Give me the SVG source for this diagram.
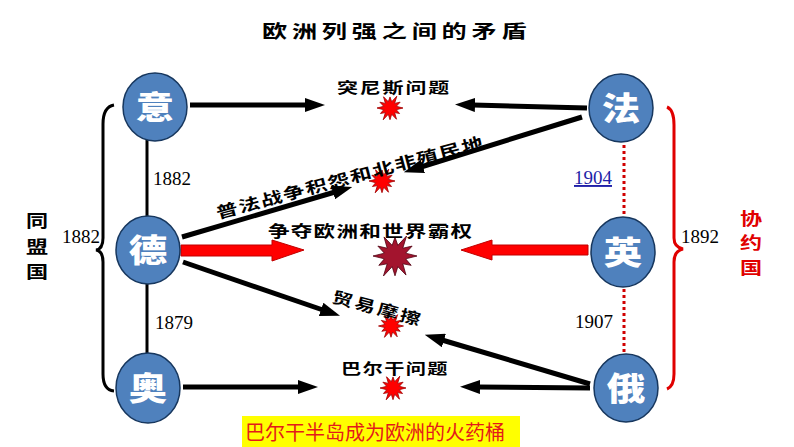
<svg xmlns="http://www.w3.org/2000/svg" xmlns:xlink="http://www.w3.org/1999/xlink" width="794" height="447" viewBox="0 0 794 447">
<style>
.node{fill:#4f81bd;stroke:#17375e;stroke-width:1.5}
.nlabel{font-family:"Noto Sans CJK SC",sans-serif;font-weight:900;font-size:32px;fill:#fff;text-anchor:middle}
.conn{stroke:#000;stroke-width:5;fill:none;marker-end:url(#ah)}
.lbl{font-family:"Noto Sans CJK SC",sans-serif;font-weight:700;fill:#000}
.year{font-family:"Liberation Serif",serif;font-size:19px;fill:#000}
.red{fill:#ff0000;stroke:#c00000;stroke-width:1}
.side{font-family:"Noto Sans CJK SC",sans-serif;font-weight:700;font-size:17px;text-anchor:middle}
</style>
<defs>
<marker id="ah" viewBox="0 0 20 14" markerWidth="4" markerHeight="2.8" refX="2" refY="7" orient="auto">
<path d="M0,0 L20,7 L0,14 z" fill="#000"/>
</marker>
<polygon id="star" vector-effect="non-scaling-stroke" points="10,0 4.83,1.29 7.36,4.25 3.54,3.54 5,8.66 1.29,4.83 0,9 -1.29,4.83 -5.25,9.09 -3.54,3.54 -7.36,4.25 -4.83,1.29 -10,0 -4.83,-1.29 -7.79,-4.5 -3.54,-3.54 -5,-8.66 -1.29,-4.83 0,-8.5 1.29,-4.83 5.25,-9.09 3.54,-3.54 7.79,-4.5 4.83,-1.29"/>
</defs>
<rect width="794" height="447" fill="#fff"/>

<text transform="translate(262,38) scale(1.4,1)" class="lbl" font-size="18" letter-spacing="3.4">欧洲列强之间的矛盾</text>

<g id="brackets">
<path d="M114,105 Q103,107 103,124 L103,238 Q103,249 96,250 Q103,251 103,262 L103,374 Q103,390 114,391" fill="none" stroke="#000" stroke-width="3"/>
<path d="M667,107 Q674,110 674,125 L674,238 Q674,247 683,249 Q674,251 674,262 L674,374 Q674,386 667,389" fill="none" stroke="#e00000" stroke-width="3"/>
</g>

<g id="connectors">
<line x1="147" y1="140" x2="147" y2="217" stroke="#000" stroke-width="3"/>
<line x1="147" y1="284" x2="147" y2="354" stroke="#000" stroke-width="3"/>
<line x1="624" y1="145" x2="624" y2="216" stroke="#d00000" stroke-width="3" stroke-dasharray="3 3"/>
<line x1="624" y1="289" x2="624" y2="353" stroke="#d00000" stroke-width="3" stroke-dasharray="3 3"/>
<line class="conn" x1="190" y1="105" x2="307" y2="105"/>
<line class="conn" x1="587" y1="108" x2="473" y2="105"/>
<line class="conn" x1="582" y1="117" x2="421" y2="167"/>
<line class="conn" x1="182" y1="237" x2="335" y2="192"/>
<line class="conn" x1="183" y1="262" x2="323" y2="310"/>
<line class="conn" x1="590" y1="384" x2="442" y2="340"/>
<line class="conn" x1="590" y1="388" x2="478" y2="387"/>
<line class="conn" x1="183" y1="387" x2="300" y2="387"/>
<polygon class="red" points="181,245 272,245 272,240 304,250 272,261 272,256 181,256"/>
<polygon class="red" points="588,245 492,245 492,240 461,250 492,260 492,255 588,255"/>
</g>

<g id="explosions">
<use xlink:href="#star" transform="translate(390,108) scale(1.3)" fill="#ff0000" stroke="#a00000" stroke-width="0.8"/>
<use xlink:href="#star" transform="translate(382,181) scale(1.3)" fill="#ff0000" stroke="#a00000" stroke-width="0.8"/>
<use xlink:href="#star" transform="translate(395,256) scale(2.2)" fill="#a3142e" stroke="#500010" stroke-width="0.8"/>
<use xlink:href="#star" transform="translate(391,326) scale(1.25)" fill="#ff0000" stroke="#a00000" stroke-width="0.8"/>
<use xlink:href="#star" transform="translate(393,388) scale(1.3)" fill="#ff0000" stroke="#a00000" stroke-width="0.8"/>
</g>

<g id="issue-labels">
<text transform="translate(337,93) scale(1.4,1)" class="lbl" font-size="15" letter-spacing="1.3">突尼斯问题</text>
<text transform="translate(218,219) rotate(-15) scale(1.35,1)" class="lbl" font-size="16" letter-spacing="1.1">普法战争积怨和北非殖民地</text>
<text transform="translate(268,237) scale(1.35,1)" class="lbl" font-size="16" letter-spacing="0.9">争夺欧洲和世界霸权</text>
<text transform="translate(331,302) rotate(15) scale(1.3,1)" class="lbl" font-size="16" letter-spacing="2">贸易摩擦</text>
<text transform="translate(341,374) scale(1.35,1)" class="lbl" font-size="15" letter-spacing="1">巴尔干问题</text>
</g>

<g id="years">
<text x="153" y="185" class="year">1882</text>
<text x="62" y="243" class="year">1882</text>
<text x="155" y="329" class="year">1879</text>
<text x="574" y="184" class="year" style="fill:#1f1fa8" text-decoration="underline">1904</text>
<text x="575" y="328" class="year">1907</text>
<text x="681" y="243" class="year">1892</text>
</g>

<g id="group-labels">
<text transform="translate(37,227) scale(1.3,1)" class="side" fill="#000">同</text>
<text transform="translate(37,253) scale(1.3,1)" class="side" fill="#000">盟</text>
<text transform="translate(37,278) scale(1.3,1)" class="side" fill="#000">国</text>
<text transform="translate(751,225) scale(1.3,1)" class="side" fill="#e00000">协</text>
<text transform="translate(751,249) scale(1.3,1)" class="side" fill="#e00000">约</text>
<text transform="translate(751,274) scale(1.3,1)" class="side" fill="#e00000">国</text>
</g>

<g id="node-yi"><ellipse class="node" cx="155" cy="107" rx="32" ry="34"/><text transform="translate(155,119) scale(1.2,1)" class="nlabel">意</text></g>
<g id="node-fa"><ellipse class="node" cx="621" cy="108" rx="32" ry="34"/><text transform="translate(621,120) scale(1.2,1)" class="nlabel">法</text></g>
<g id="node-de"><ellipse class="node" cx="148" cy="250" rx="32" ry="34"/><text transform="translate(148,262) scale(1.2,1)" class="nlabel">德</text></g>
<g id="node-ying"><ellipse class="node" cx="623" cy="252" rx="32" ry="35"/><text transform="translate(623,264) scale(1.2,1)" class="nlabel">英</text></g>
<g id="node-ao"><ellipse class="node" cx="148" cy="388" rx="32" ry="35"/><text transform="translate(148,400) scale(1.2,1)" class="nlabel">奥</text></g>
<g id="node-e"><ellipse class="node" cx="626" cy="388" rx="32" ry="34"/><text transform="translate(626,400) scale(1.2,1)" class="nlabel">俄</text></g>

<g id="note">
<rect x="242" y="416" width="278" height="31" fill="#ffff00"/>
<text x="245" y="440" font-family="Noto Sans CJK SC, sans-serif" font-size="20" fill="#e41a1a">巴尔干半岛成为欧洲的火药桶</text>
</g>
</svg>
